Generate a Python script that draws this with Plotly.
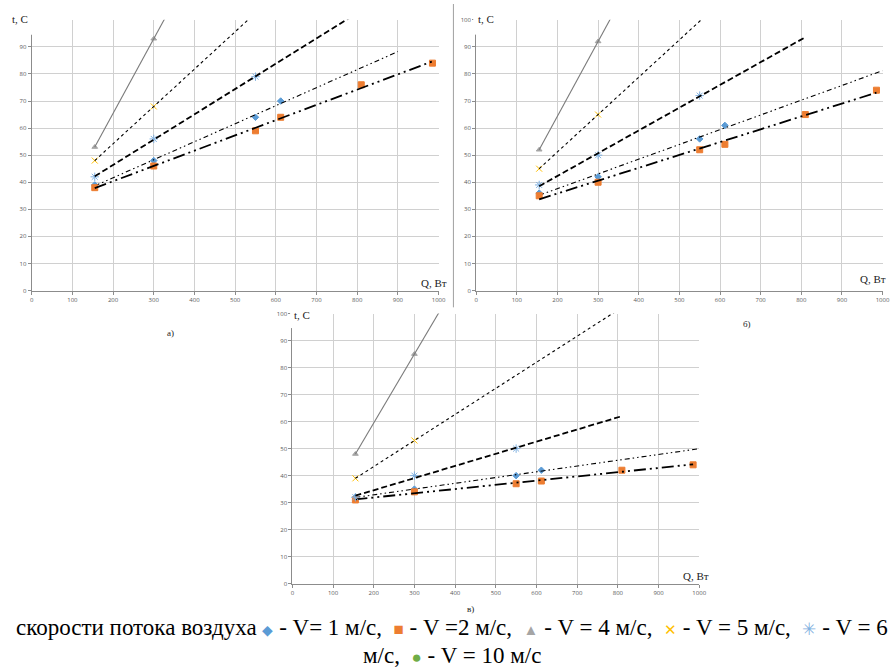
import numpy as np
import plotly.graph_objects as go

W, H = 895, 669

# тепловая мощность, Вт
q = [155, 300, 550, 612, 810, 985]

# время, с -- панель а)
v1_a = [39, 48, 64, 70]
v2_a = [38, 46, 59, 64, 76, 84]
v4_a = [53, 93]
v5_a = [48, 68]
v6_a = [42, 56, 79]

# панель б)
v1_b = [36, 42, 56, 61]
v2_b = [35, 40, 52, 54, 65, 74]
v4_b = [52, 92]
v5_b = [45, 65]
v6_b = [39, 50, 72]

# панель в)
v1_c = [32, 35, 40, 42]
v2_c = [31, 34, 37, 38, 42, 44]
v4_c = [48, 85]
v5_c = [39, 53]
v6_c = [32, 40, 50]

# где заканчивается линия тренда (V=1, V=2, V=4, V=5, V=6)
trend_end_a = [900, 985, 1000, 1000, 810]
trend_end_b = [1000, 985, 1000, 1000, 810]
trend_end_c = [1000, 985, 1000, 1000, 810]

y_ticks = [0, 10, 20, 30, 40, 50, 60, 70, 80, 90, 100]

series_style = [
    # маркер, линия тренда
    dict(symbol='diamond', color='#5B9BD5', size=5, lcolor='#000000', lw=1.1, dash='5px,3px,1.5px,3px,1.5px,3px'),
    dict(symbol='square', color='#ED7D31', size=6, lcolor='#000000', lw=1.8, dash='12px,4px,2px,4px,2px,4px'),
    dict(symbol='triangle-up', color='#A5A5A5', size=5, lcolor='#7a7a7a', lw=1.1, dash='solid'),
    dict(symbol='x-thin-open', color='#FFC000', size=6, lcolor='#000000', lw=1.1, dash='dot'),
    dict(symbol='asterisk-open', color='#7fb0e0', size=7, lcolor='#000000', lw=1.8, dash='6px,3px'),
]


def px_x(x):
    return x / W


def px_y(y):
    return 1 - y / H


fig = go.Figure()

panels = [
    ('', [v1_a, v2_a, v4_a, v5_a, v6_a], trend_end_a),
    ('2', [v1_b, v2_b, v4_b, v5_b, v6_b], trend_end_b),
    ('3', [v1_c, v2_c, v4_c, v5_c, v6_c], trend_end_c),
]

for suffix, values, ends in panels:
    for vals, end, st in zip(values, ends, series_style):
        xs = q[:len(vals)]
        k, b = np.polyfit(xs, vals, 1)
        tx = [xs[0], end]
        fig.add_trace(go.Scatter(
            x=xs, y=vals, mode='markers', xaxis='x' + suffix, yaxis='y' + suffix,
            marker=dict(symbol=st['symbol'], color=st['color'], size=st['size'],
                        line=dict(color=st['color'], width=1)),
            showlegend=False, hoverinfo='skip'))
        fig.add_trace(go.Scatter(
            x=tx, y=[k * x + b for x in tx], mode='lines', xaxis='x' + suffix, yaxis='y' + suffix,
            line=dict(color=st['lcolor'], width=st['lw'], dash=st['dash']),
            showlegend=False, hoverinfo='skip'))


def axis(dtick, rng, dom, anchor):
    return dict(range=rng, dtick=dtick, domain=dom, anchor=anchor,
                showgrid=True, gridcolor='#d0d0d0', gridwidth=1, zeroline=False,
                showline=True, linecolor='#8c8c8c', linewidth=1,
                ticks='outside', ticklen=3, tickcolor='#8c8c8c',
                tickfont=dict(family='Open Sans', size=6, color='#595959'),
                fixedrange=True)


# область построения каждой панели в пикселях
box_a = (30, 441, 16, 290)
box_b = (479, 889.5, 16, 290)
box_c = (293.3, 704.3, 313.3, 586.7)

layout = {}
for suffix, (x0, x1, y0, y1) in zip(['', '2', '3'], [box_a, box_b, box_c]):
    layout['xaxis' + suffix] = axis(100, [0, 1000], [px_x(x0), px_x(x1)], 'y' + suffix)
    layout['yaxis' + suffix] = axis(10, [0, 100], [px_y(y1), px_y(y0)], 'x' + suffix)

# на панели а) подпись "100" закрыта подписью оси
layout['yaxis']['tickvals'] = y_ticks
layout['yaxis']['ticktext'] = [str(v) for v in y_ticks[:-1]] + ['']

fig.update_layout(**layout)

# белые подложки под подписями осей
white = [
    (0, 42, 5, 31), (476, 508, 5, 31), (291, 322, 304, 328),
    (420, 453, 273, 288), (864, 895, 269, 287), (686, 717, 570, 585),
]
for x0, x1, y0, y1 in white:
    fig.add_shape(type='rect', xref='paper', yref='paper', layer='above',
                  x0=px_x(x0), x1=px_x(x1), y0=px_y(y1), y1=px_y(y0),
                  fillcolor='white', line=dict(width=0))

# разделитель между панелями а) и б)
fig.add_shape(type='line', xref='paper', yref='paper', layer='above',
              x0=px_x(456), x1=px_x(456), y0=px_y(0), y1=px_y(307),
              line=dict(color='#a0a0a0', width=1))

serif = 'Liberation Serif'
labels = [
    ('t, C', 18, 15, 11), ('t, C', 489, 15, 11), ('t, C', 303, 315, 11),
    ('Q, Вт', 436, 282, 11), ('Q, Вт', 880, 278, 11), ('Q, Вт', 701, 579, 11),
    ('а)', 170, 333, 9), ('б)', 753, 324, 9), ('в)', 473, 612, 9),
]
for text, x, y, size in labels:
    fig.add_annotation(text=text, x=px_x(x), y=px_y(y), xref='paper', yref='paper',
                       xanchor='center', yanchor='middle',
                       showarrow=False, font=dict(family=serif, size=size, color='#222222'))


def mark(ch, color, size=17):
    return '<span style="color:%s;font-size:%dpx">%s</span>' % (color, size, ch)


sp = '&nbsp;'
line1 = ('скорости потока воздуха ' + mark('◆', '#5B9BD5', 14) + ' - V= 1 м/с, '
         + sp + mark('■', '#ED7D31') + ' - V =2 м/с, ' + sp + mark('▲', '#A5A5A5', 15)
         + ' - V = 4 м/с, ' + sp + mark('✕', '#FFC000', 15) + ' - V = 5 м/с, '
         + sp + mark('✳', '#7fb0e0', 17) + ' - V = 6')
line2 = 'м/с, ' + sp + mark('●', '#70AD47') + ' - V = 10 м/с'

fig.add_annotation(text=line1, x=px_x(12), y=px_y(631), xref='paper', yref='paper',
                   xanchor='left', yanchor='middle', showarrow=False,
                   font=dict(family=serif, size=23, color='black'))
fig.add_annotation(text=line2, x=px_x(455), y=px_y(659), xref='paper', yref='paper',
                   xanchor='center', yanchor='middle', showarrow=False,
                   font=dict(family=serif, size=23, color='black'))

fig.update_layout(width=W, height=H, margin=dict(l=0, r=0, t=0, b=0),
                  paper_bgcolor='white', plot_bgcolor='white', showlegend=False)

# у страницы по умолчанию отступ body 8px -- убираем
fig.write_html("out.html", config={'displayModeBar': False},
               post_script="document.body.style.margin='0';")
